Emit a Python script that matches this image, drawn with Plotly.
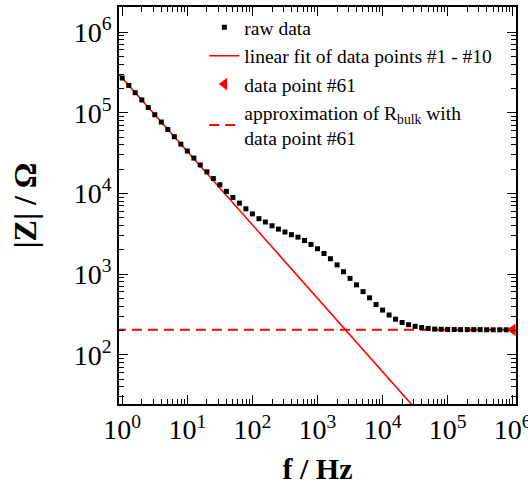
import numpy as np
import plotly.graph_objects as go

# ---------------- data ----------------
freq_hz = [1.0, 1.26, 1.58, 2.0, 2.51, 3.16, 3.98, 5.01, 6.31, 7.94,
           10, 12.6, 15.8, 20, 25.1, 31.6, 39.8, 50.1, 63.1, 79.4,
           100, 126, 158, 200, 251, 316, 398, 501, 631, 794,
           1000, 1260, 1580, 2000, 2510, 3160, 3980, 5010, 6310, 7940,
           1e4, 1.26e4, 1.58e4, 2e4, 2.51e4, 3.16e4, 3.98e4, 5.01e4, 6.31e4, 7.94e4,
           1e5, 1.26e5, 1.58e5, 2e5, 2.51e5, 3.16e5, 3.98e5, 5.01e5, 6.31e5, 7.94e5,
           1e6]
z_abs = [269000, 218000, 177000, 144000, 116000, 94400, 76600, 62100, 50400, 40800,
         33500, 27400, 22500, 18500, 15300, 12800, 10600, 8910, 7570, 6440,
         5570, 4860, 4420, 3970, 3610, 3320, 3080, 2870, 2610, 2330,
         2060, 1800, 1550, 1300, 1070, 885, 736, 607, 508, 420,
         358, 311, 276, 251, 236, 225, 218, 212, 208, 207,
         206, 206, 205, 205, 205, 205, 204, 204, 204, 204, 204]
fit_points = 10          # data points #1 - #10
bulk_point = 61          # data point #61
x_extent = [0.8, 1.25e6]

x_ticks = [1, 10, 100, 1000, 1e4, 1e5, 1e6]
x_ticktext = ["10<sup>0</sup>", "10<sup>1</sup>", "10<sup>2</sup>", "10<sup>3</sup>",
              "10<sup>4</sup>", "10<sup>5</sup>", "10<sup>6</sup>"]
y_ticks = [100, 1000, 1e4, 1e5, 1e6]
y_ticktext = ["10<sup>2</sup>", "10<sup>3</sup>", "10<sup>4</sup>", "10<sup>5</sup>", "10<sup>6</sup>"]

# ---------------- derived ----------------
lf = np.log10(freq_hz[:fit_points])
lz = np.log10(z_abs[:fit_points])
slope, icpt = np.polyfit(lf, lz, 1)
fit_x = np.array(x_extent)
fit_y = 10 ** (icpt + slope * np.log10(fit_x))
r_bulk = z_abs[bulk_point - 1]

RED = "#ff0000"
FONT = "Liberation Serif"

fig = go.Figure()
fig.add_trace(go.Scatter(x=fit_x, y=fit_y, mode="lines",
                         name="linear fit of data points #1 - #10", legendrank=2,
                         line=dict(color=RED, width=1.6)))
fig.add_trace(go.Scatter(x=x_extent, y=[r_bulk, r_bulk], mode="lines", legendrank=4,
                         name="approximation of R<sub>bulk</sub> with<br>data point #61",
                         line=dict(color=RED, width=2, dash="10px,6px")))
fig.add_trace(go.Scatter(x=freq_hz, y=z_abs, mode="markers", name="raw data", legendrank=1,
                         marker=dict(symbol="square", size=5, color="black")))
fig.add_trace(go.Scatter(x=[freq_hz[bulk_point - 1]], y=[r_bulk], mode="markers",
                         name="data point #61", cliponaxis=False, legendrank=3,
                         marker=dict(symbol="triangle-left", size=11, color=RED)))

axis_common = dict(
    type="log", showgrid=False, zeroline=False, automargin=False,
    showline=True, linecolor="black", linewidth=1.6, mirror="ticks",
    ticks="inside", ticklen=9, tickwidth=1.4, tickcolor="black",
    tickfont=dict(family=FONT, size=28, color="black"),
    ticklabeloverflow="allow",
    minor=dict(ticks="inside", ticklen=5, tickwidth=1.2, tickcolor="black",
               dtick="D1", showgrid=False),
)

fig.update_xaxes(**axis_common, range=[-0.05, 6.05], tickvals=x_ticks, ticktext=x_ticktext,
                 title=dict(text="<b>f / Hz</b>", font=dict(family=FONT, size=30, color="black"),
                            standoff=14))
fig.update_yaxes(**axis_common, range=[1.39, 6.31], tickvals=y_ticks, ticktext=y_ticktext,
                 title=dict(text="<b>|Z| / Ω</b>", font=dict(family=FONT, size=32, color="black"),
                            standoff=28))

fig.update_layout(
    width=528, height=488,
    margin=dict(l=119, r=12, t=7, b=84),
    paper_bgcolor="white", plot_bgcolor="white",
    font=dict(family=FONT, color="black"),
    legend=dict(x=0.215, y=0.997, xanchor="left", yanchor="top",
                bgcolor="rgba(0,0,0,0)", borderwidth=0,
                font=dict(family=FONT, size=19.5, color="black"),
                tracegroupgap=0, traceorder="normal"),
    showlegend=True,
)

fig.write_html("out.html")
